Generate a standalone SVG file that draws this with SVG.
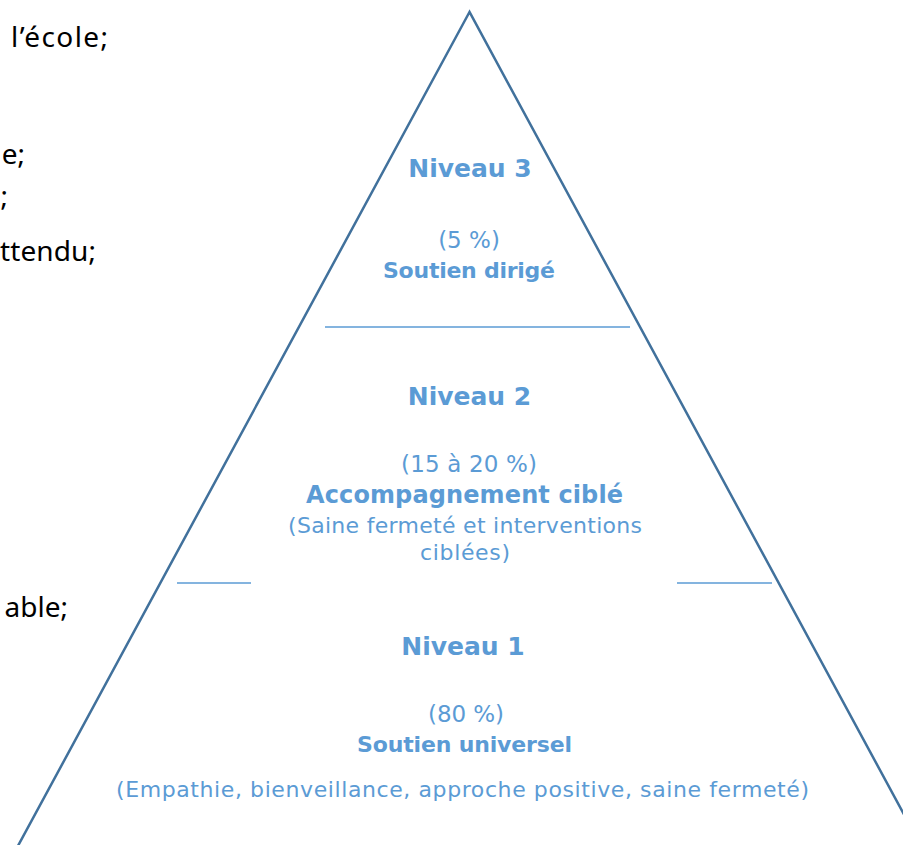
<svg xmlns="http://www.w3.org/2000/svg" width="903" height="845" viewBox="0 0 903 845">
<style>
.side{font-family:"Noto Sans","Open Sans",sans-serif;font-size:28px;fill:#000;text-anchor:end}
.t{font-family:"DejaVu Sans","Liberation Sans",sans-serif;fill:#5B9BD5;text-anchor:middle}
.h{font-size:25px;font-weight:bold}
.b{font-size:22px;font-weight:bold}
.r{font-size:22px}
.sep{stroke:#5B9BD5;stroke-width:1.3;fill:none}
</style>
<rect width="903" height="845" fill="#fff"/>
<g id="side-text">
<text class="side" x="108" y="47" textLength="97">l’école;</text>
<text class="side" x="25" y="164">e;</text>
<text class="side" x="8" y="206">;</text>
<text class="side" x="96" y="261" textLength="96">ttendu;</text>
<text class="side" x="68" y="617">able;</text>
</g>
<g id="pyramid">
<polygon points="469.5,12 -0.5,880 939.5,880" fill="none" stroke="#41719C" stroke-width="2.5" stroke-linejoin="miter"/>
</g>
<g id="connectors">
<line class="sep" x1="325" y1="327" x2="630" y2="327"/>
<line class="sep" x1="177" y1="583" x2="251" y2="583"/>
<line class="sep" x1="677" y1="583" x2="772" y2="583"/>
</g>
<g id="niveau3">
<text class="t h" x="470" y="177">Niveau 3</text>
<text class="t r" x="469" y="248" style="font-size:23px">(5 %)</text>
<text class="t b" x="469" y="278" textLength="172">Soutien dirigé</text>
</g>
<g id="niveau2">
<text class="t h" x="469.5" y="405">Niveau 2</text>
<text class="t r" x="469" y="472" style="font-size:23px" textLength="136">(15 à 20 %)</text>
<text class="t b" x="464.5" y="503" style="font-size:24px" textLength="317">Accompagnement ciblé</text>
<text class="t r" x="465" y="533" textLength="354">(Saine fermeté et interventions</text>
<text class="t r" x="465" y="560" textLength="90">ciblées)</text>
</g>
<g id="niveau1">
<text class="t h" x="463" y="655">Niveau 1</text>
<text class="t r" x="466" y="722" style="font-size:23px" textLength="76">(80 %)</text>
<text class="t b" x="464.5" y="752" textLength="215">Soutien universel</text>
<text class="t r" x="462.5" y="797" textLength="693">(Empathie, bienveillance, approche positive, saine fermeté)</text>
</g>
</svg>
